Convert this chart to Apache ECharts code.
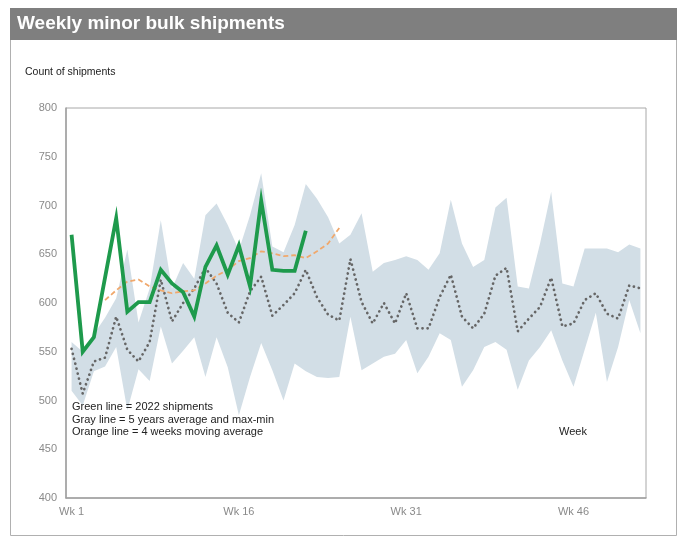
<!DOCTYPE html>
<html>
<head>
<meta charset="utf-8">
<script src="https://cdn.jsdelivr.net/npm/echarts@6/dist/echarts.min.js"></script>
<style>
  html, body { margin: 0; padding: 0; background: #ffffff; }
  #chart { width: 686px; height: 538px; }
</style>
</head>
<body>
<div id="chart"></div>
<script>
// ---- Data ----
var weeks = ['Wk 1','Wk 2','Wk 3','Wk 4','Wk 5','Wk 6','Wk 7','Wk 8','Wk 9','Wk 10',
  'Wk 11','Wk 12','Wk 13','Wk 14','Wk 15','Wk 16','Wk 17','Wk 18','Wk 19','Wk 20',
  'Wk 21','Wk 22','Wk 23','Wk 24','Wk 25','Wk 26','Wk 27','Wk 28','Wk 29','Wk 30',
  'Wk 31','Wk 32','Wk 33','Wk 34','Wk 35','Wk 36','Wk 37','Wk 38','Wk 39','Wk 40',
  'Wk 41','Wk 42','Wk 43','Wk 44','Wk 45','Wk 46','Wk 47','Wk 48','Wk 49','Wk 50',
  'Wk 51','Wk 52'];

// 2022 shipments (green)
var shipments2022 = [670, 550, 565, 626, 687, 591, 601, 601, 634, 620,
  611, 586, 637, 659, 629, 659, 617, 705, 634, 633,
  633, 674];

// 4 weeks moving average (orange), starts at week 4
var movingAvg4 = [null, null, null, 603, 613, 622, 624, 617, 613, 610,
  612, 613, 620, 628, 634, 643, 646, 653, 651, 648,
  649, 646, 653, 661, 677];

// 5 years average (gray dotted)
var avg5y = [553, 507, 540, 544, 586, 552, 540, 560, 624, 581,
  600, 615, 636, 620, 590, 580, 612, 627, 587, 598,
  610, 634, 606, 588, 582, 645, 601, 579, 600, 579,
  610, 574, 574, 606, 629, 586, 574, 589, 628, 636,
  571, 584, 596, 626, 576, 579, 603, 610, 589, 584,
  618, 615];

// 5 years max and min (band)
var max5y = [560, 550, 568, 585, 605, 655, 580, 615, 685, 615,
  641, 625, 690, 702, 680, 654, 690, 733, 658, 652,
  680, 722, 707, 688, 661, 670, 692, 632, 641, 644,
  648, 644, 634, 651, 706, 661, 637, 644, 698, 708,
  617, 615, 661, 714, 620, 617, 656, 656, 656, 652,
  660, 656];
var min5y = [510, 495, 530, 535, 555, 490, 532, 520, 576, 538,
  551, 565, 524, 565, 534, 485, 524, 559, 531, 500,
  538, 530, 524, 523, 524, 586, 531, 538, 545, 548,
  562, 528, 545, 569, 562, 514, 531, 555, 560, 552,
  511, 541, 555, 572, 541, 514, 552, 590, 519, 555,
  603, 569];

var yTicks = {min: 400, max: 800, step: 50};

var notes = ['Green line = 2022 shipments',
  'Gray line = 5 years average and max-min',
  'Orange line = 4 weeks moving average'];

// ---- Chart ----
var bandRange = max5y.map(function (v, i) { return v - min5y[i]; });
var FONT = '"Liberation Sans", Arial, sans-serif';

var chart = echarts.init(document.getElementById('chart'), null, {renderer: 'canvas'});
chart.setOption({
  animation: false,
  backgroundColor: '#ffffff',
  textStyle: {fontFamily: FONT},
  grid: {
    left: 66, top: 108, width: 580, height: 390,
    show: true, borderColor: '#a8a8a8', borderWidth: 1, backgroundColor: '#ffffff'
  },
  xAxis: {
    type: 'category',
    data: weeks,
    boundaryGap: true,
    axisLine: {show: true, lineStyle: {color: '#a0a0a0', width: 1.5}},
    axisTick: {show: false},
    axisLabel: {interval: 14, color: '#8a8a8a', fontSize: 11, fontFamily: FONT, margin: 8}
  },
  yAxis: {
    type: 'value',
    min: yTicks.min, max: yTicks.max, interval: yTicks.step,
    axisLine: {show: true, lineStyle: {color: '#a0a0a0', width: 1.5}},
    axisTick: {show: false},
    splitLine: {show: false},
    axisLabel: {color: '#8a8a8a', fontSize: 11, fontFamily: FONT, margin: 9}
  },
  series: [
    {
      name: 'min', type: 'line', data: min5y, stack: 'band',
      symbol: 'none', lineStyle: {opacity: 0}, silent: true
    },
    {
      name: 'range', type: 'line', data: bandRange, stack: 'band',
      symbol: 'none', lineStyle: {opacity: 0},
      areaStyle: {color: '#d2dee6', opacity: 1}, silent: true
    },
    {
      name: '5y avg', type: 'line', data: avg5y, symbol: 'none',
      lineStyle: {color: '#666666', width: 2.7, type: [0.1, 5], cap: 'round', join: 'round'}
    },
    {
      name: '4w MA', type: 'line', data: movingAvg4, symbol: 'none',
      lineStyle: {color: '#f0a86c', width: 1.8, type: [5, 3]}
    },
    {
      name: '2022', type: 'line', data: shipments2022, symbol: 'none',
      lineStyle: {color: '#1e9a4c', width: 3.8, join: 'miter'}
    }
  ],
  graphic: [
    {type: 'rect', z: -10, shape: {x: 10.5, y: 8.5, width: 666, height: 527},
      style: {fill: '#ffffff', stroke: '#b0b0b0', lineWidth: 1}},
    {type: 'rect', z: 10, shape: {x: 10, y: 8, width: 667, height: 32},
      style: {fill: '#7f7f7f'}},
    {type: 'text', z: 11, left: 17, top: 14,
      style: {text: 'Weekly minor bulk shipments', fill: '#ffffff',
        font: 'bold 19px ' + FONT}},
    {type: 'text', z: 11, left: 25, top: 67,
      style: {text: 'Count of shipments', fill: '#222222', font: '10.5px ' + FONT}},
    {type: 'text', z: 11, left: 72, top: 401,
      style: {text: notes[0], fill: '#222222', font: '11px ' + FONT}},
    {type: 'text', z: 11, left: 72, top: 414,
      style: {text: notes[1], fill: '#222222', font: '11px ' + FONT}},
    {type: 'text', z: 11, left: 72, top: 426,
      style: {text: notes[2], fill: '#222222', font: '11px ' + FONT}},
    {type: 'text', z: 11, left: 559, top: 426,
      style: {text: 'Week', fill: '#222222', font: '11px ' + FONT}}
  ]
});
</script>
</body>
</html>
